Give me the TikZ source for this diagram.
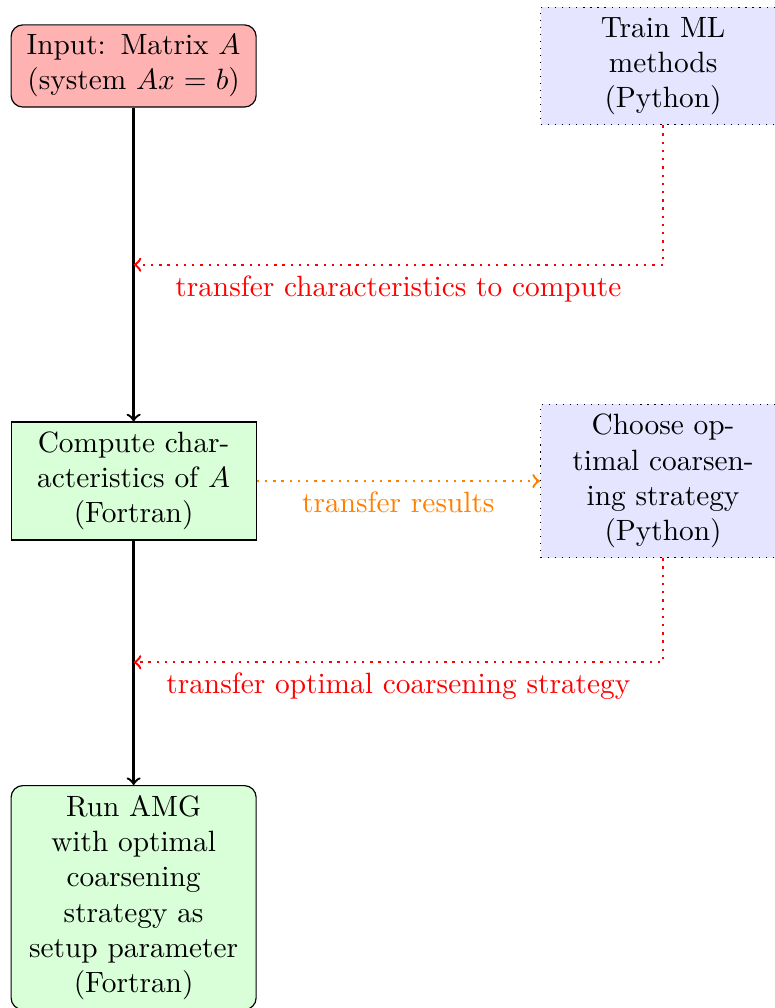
\documentclass[tikz,border=0pt]{standalone}
\usepackage{amsmath,amssymb}
\usepackage{tikz}
\usetikzlibrary{calc}
\usepackage{xcolor}

\begin{document}
\begin{tikzpicture}[
  box/.style={draw, text width=2.7cm, align=center},
  inbox/.style={box, fill=red!30, rounded corners},
  fortbox/.style={box, fill=green!15},
  pybox/.style={box, dotted, fill=blue!10},
  flow/.style={->, thick},
  back/.style={->, thick, dotted}
]
\path[use as bounding box, clip] (0,0) rectangle (9.28,-12.07);

\node [inbox] (inp) at (1.6,-0.79) {Input: Matrix $A$\\ (system $Ax=b$)};
\node [pybox] (train) at (7.94,-0.79) {Train ML\\ methods\\ (Python)};
\node [fortbox] (comp) at (1.6,-5.76) {Compute char-\\ acteristics of $A$\\ (Fortran)};
\node [pybox] (choose) at (7.94,-5.76) {Choose op-\\ timal coarsen-\\ ing strategy\\ (Python)};
\node [fortbox, rounded corners, anchor=north] (amg) at (1.6,-9.4) {Run AMG\\ with optimal\\ coarsening\\ strategy as\\ setup parameter\\ (Fortran)};

\coordinate (t1) at (1.6,-3.17);
\coordinate (t2) at (1.6,-7.93);

\draw [flow] (inp) -- (comp);
\draw [flow] (comp) -- (amg);
\draw [back, red] (train.south) |- (t1) node[pos=0.75, below] {transfer characteristics to compute};
\draw [back, orange] (comp) -- (choose) node[midway, below] {transfer results};
\draw [back, red] (choose.south) |- (t2) node[pos=0.75, below] {transfer optimal coarsening strategy};
\end{tikzpicture}
\end{document}
